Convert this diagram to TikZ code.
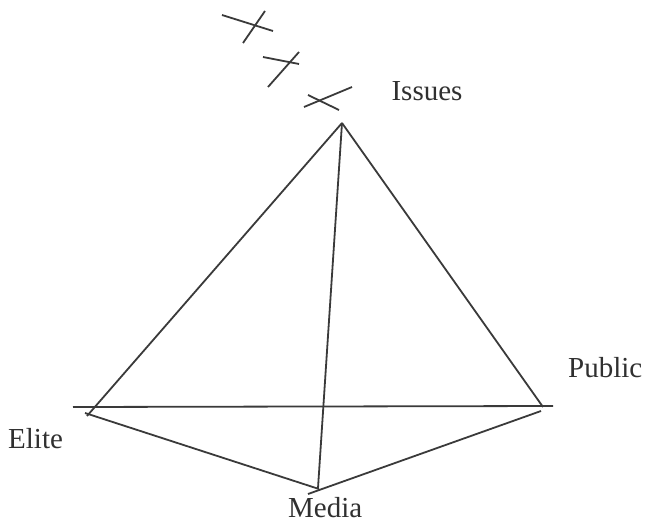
\documentclass[tikz,border=0pt]{standalone}
\usepackage{fontspec}
\setmainfont{Liberation Serif}
\usetikzlibrary{positioning}
\definecolor{ink}{RGB}{58,58,58}
\definecolor{txt}{RGB}{48,48,48}

\tikzset{
  edge/.style={ink,line width=1.8pt},
  lbl/.style={txt,inner sep=0pt,text depth=0pt,font=\fontsize{29}{30}\selectfont}
}

\begin{document}
\begin{tikzpicture}[x=1pt,y=-1pt]
  \useasboundingbox (0,0) rectangle (645,522);
  % corners of the pyramid
  \coordinate (apex) at (342,123);
  \coordinate (eliteA) at (87,416);
  \coordinate (eliteB) at (85,413);
  \coordinate (hzL) at (73,407);
  \coordinate (hzR) at (553,406);
  \coordinate (pubA) at (543,407);
  \coordinate (pubB) at (541,411);
  \coordinate (medA) at (318,488);
  \coordinate (medB) at (319,489);
  \coordinate (medC) at (308,494);
  % labels
  \node[lbl,anchor=base] (issues) at (427,100) {Issues};
  \node[lbl,anchor=base west] (public) at (568,377) {Public};
  \node[lbl,anchor=base west] (elite) at (8,448) {Elite};
  \node[lbl,anchor=base west] (media) at (288,517) {Media};
  % edges from the top
  \draw[edge] (apex) -- (eliteA);
  \draw[edge] (apex) -- (pubA);
  \draw[edge] (apex) -- (medA);
  % base
  \draw[edge] (hzL) -- (hzR);
  \draw[edge] (eliteB) -- (medB);
  \draw[edge] (medC) -- (pubB);
  % crossed marks above the apex
  \draw[edge] (222,15) -- (273,31);
  \draw[edge] (265,11) -- (243,43);
  \draw[edge] (263,57) -- (299,64);
  \draw[edge] (299,52) -- (268,87);
  \draw[edge] (352,87) -- (304,107);
  \draw[edge] (308,95) -- (339,110);
\end{tikzpicture}
\end{document}
